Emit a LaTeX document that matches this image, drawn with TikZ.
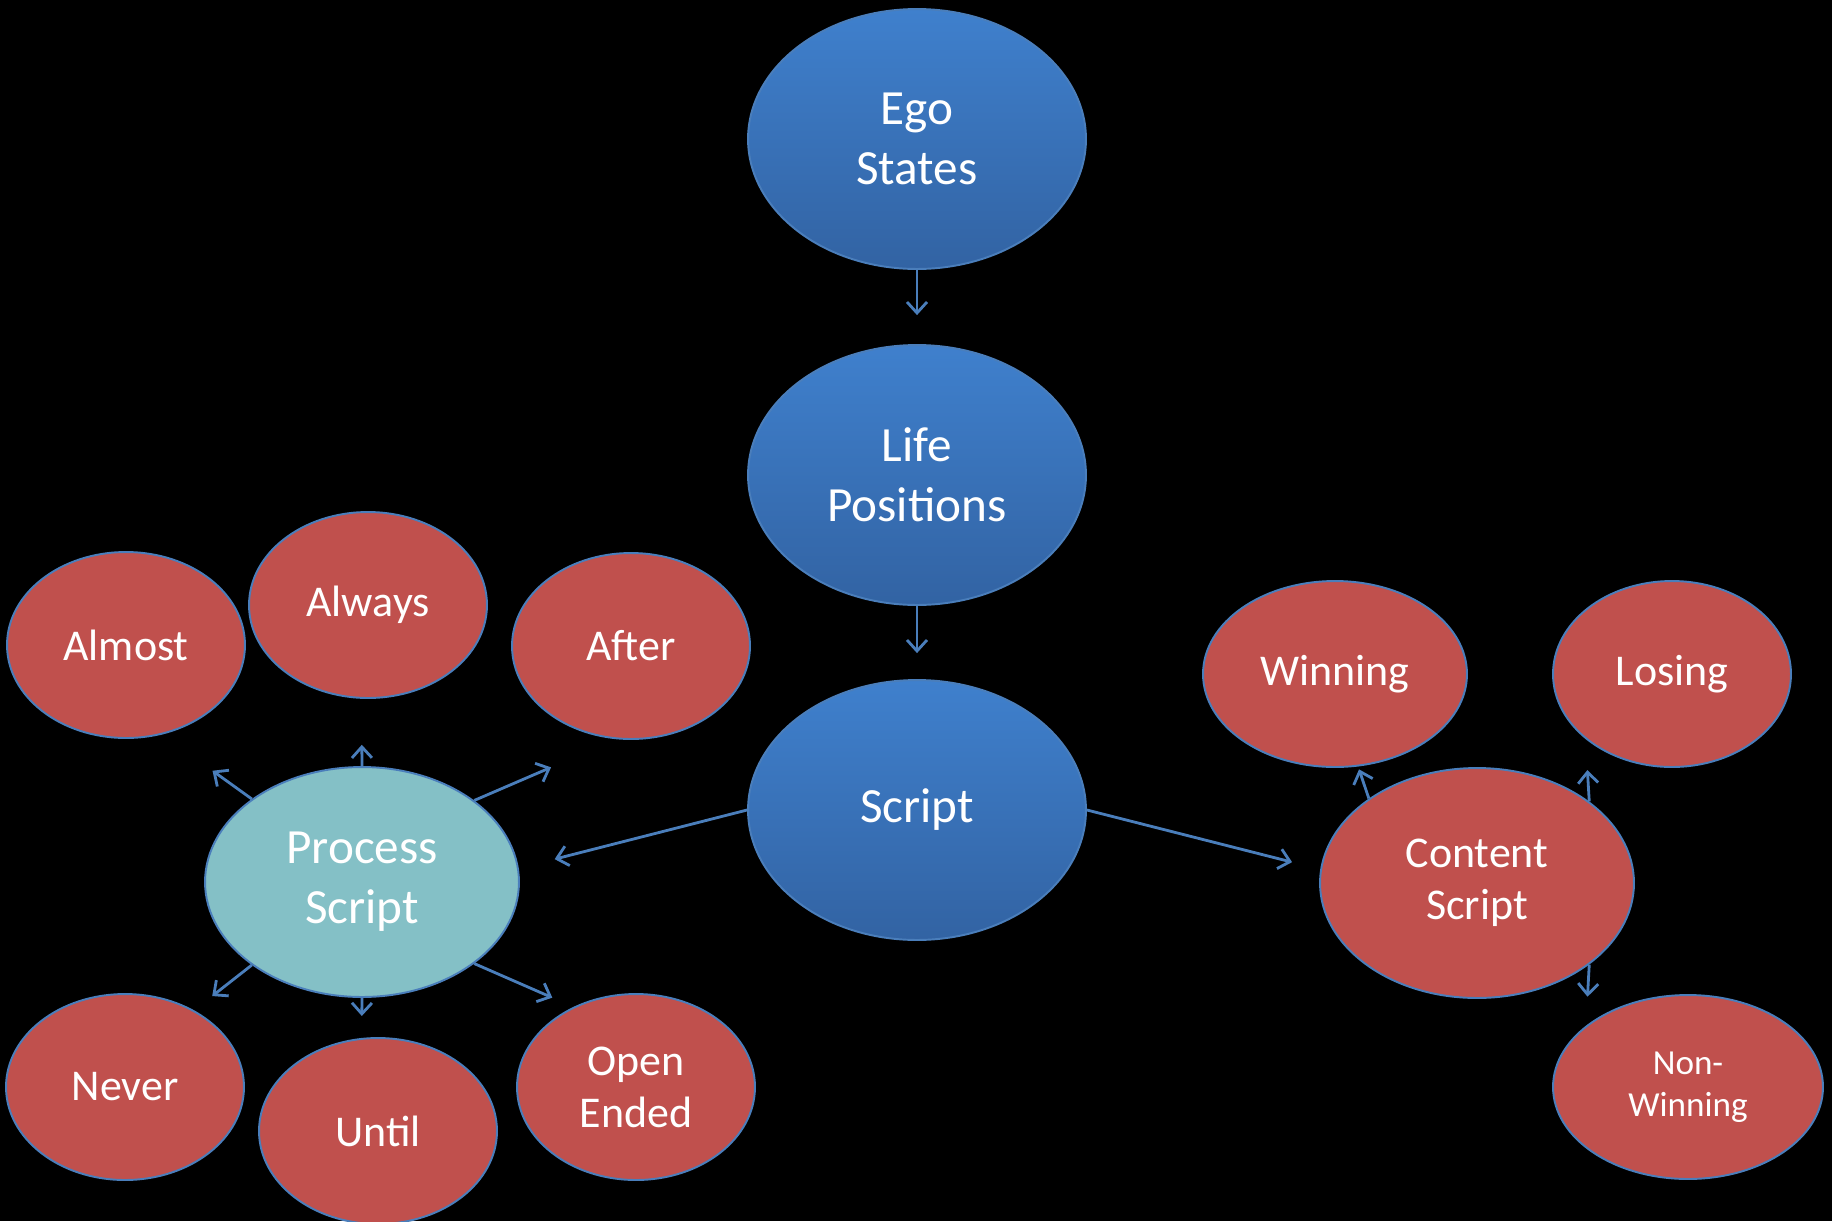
\documentclass[tikz,border=0pt]{standalone}
\usepackage{fontspec}
\setmainfont{Carlito}
\usetikzlibrary{shapes.geometric, arrows.meta}
\definecolor{egoblue}{RGB}{63,128,205}
\definecolor{egobluedark}{RGB}{50,99,163}
\definecolor{rimblue}{RGB}{74,126,187}
\definecolor{scriptred}{RGB}{192,80,77}
\definecolor{processteal}{RGB}{132,192,198}

\begin{document}
\begin{tikzpicture}[>={Straight Barb[length=0.22cm,width=0.4cm]}, x=0.02cm, y=-0.02cm, link/.style={draw=rimblue, line width=1.6pt, ->}, rim/.style={draw=rimblue, line width=1.1pt}]
    % Define styles for the bubbles
    \tikzstyle{bubble} = [ellipse, rim, inner sep=0pt, text=white, align=center]
    \tikzstyle{bigbubble} = [bubble, top color=egoblue, bottom color=egobluedark, minimum width=6.76cm, minimum height=5.2cm, font=\fontsize{28}{34}\selectfont]
    \tikzstyle{midbubble} = [bubble, minimum width=6.28cm, minimum height=4.6cm]
    \tikzstyle{leaf} = [bubble, fill=scriptred, minimum width=4.76cm, minimum height=3.72cm, font=\fontsize{25}{29.5}\selectfont]

    % Background and page size
    \fill[black] (0,0) rectangle (1832,1221);
    \useasboundingbox (0,0) rectangle (1832,1221);

    % Nodes placement
    \node [bigbubble] (ego) at (917,139) {Ego\\States};
    \node [bigbubble] (life) at (917,475) {Life\\Positions};
    \node [bigbubble] (script) at (917,810) {Script};

    \node [midbubble, fill=processteal, font=\fontsize{28}{34}\selectfont] (process) at (362,882) {Process\\Script};
    \node [midbubble, fill=scriptred, font=\fontsize{25}{29.5}\selectfont] (content) at (1477,883) {Content\\Script};

    \node [leaf] (almost) at (126,645) {Almost};
    \node [leaf] (always) at (368,605) {Always};
    \node [leaf] (after) at (631,646) {After};
    \node [leaf] (never) at (125,1087) {Never};
    \node [leaf] (until) at (378,1131) {Until};
    \node [leaf] (openended) at (636,1087) {Open\\Ended};

    \node [leaf, minimum width=5.28cm] (winning) at (1335,674) {Winning};
    \node [leaf] (losing) at (1672,674) {Losing};
    \node [leaf, minimum width=5.4cm, minimum height=3.68cm, font=\fontsize{20}{24}\selectfont] (nonwin) at (1688,1087) {Non-\\Winning};

    % Draw edges
    \draw[link, shorten >=0.58cm] (ego.south) -- (life.north);
    \draw[link, shorten >=0.52cm] (life.south) -- (script.north);
    \draw[link, shorten >=0.74cm] (script.west) -- (process.5);
    \draw[link, shorten >=0.58cm] (script.east) -- (content.175);

    % Process script spokes
    \draw[link, shorten >=1.24cm] (process.143) -- (almost.-68);
    \draw[link, shorten >=0.92cm] (process.north) -- (always.-94);
    \draw[link, shorten >=1.42cm] (process.36) -- (after.-99);
    \draw[link, shorten >=0.46cm] (process.-143) -- (never.48);
    \draw[link, shorten >=0.44cm] (process.south) -- (until.100);
    \draw[link, shorten >=0.46cm] (process.-36) -- (openended.128);

    % Content script spokes
    \draw[link, shorten >=0.06cm] (content.142) -- (winning.-76);
    \draw[link, shorten >=0.62cm] (content.36) -- (losing.-143);
    \draw[link, shorten >=0.58cm] (content.-36) -- (nonwin.149);
\end{tikzpicture}
\end{document}
